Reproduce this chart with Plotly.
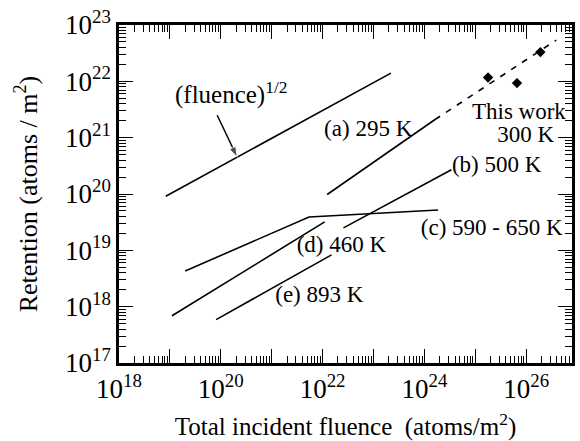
import plotly.graph_objects as go

# ---- data ----
fluence_half_x = [8.3e18, 2.2e23]
fluence_half_y = [9.1e19, 1.4e22]

a295_x = [1.23e22, 1.62e24]
a295_y = [9.8e19, 2.1e21]
a295_ext_x = [1.62e24, 3.9e26]
a295_ext_y = [2.1e21, 5.4e22]

b500_x = [2.57e22, 3.4e24]
b500_y = [2.5e19, 2.7e20]

c590_x = [2.0e19, 5.4e21, 1.86e24]
c590_y = [4.3e18, 3.9e19, 5.2e19]

d460_x = [1.1e19, 1.1e22]
d460_y = [6.9e17, 3.2e19]

e893_x = [8.1e19, 1.5e22]
e893_y = [5.9e17, 8.3e18]

this_work_x = [1.78e25, 6.6e25, 1.9e26]
this_work_y = [1.17e22, 9.3e21, 3.3e22]

# pointer of the (fluence)^1/2 label: tail -> head
pointer_x = [8.5e19, 2.1e20]
pointer_y = [2.5e21, 4.5e20]

x_decades = list(range(18, 27))
y_decades = list(range(17, 24))

FONT = "Liberation Serif"
X_RANGE = [18, 26.9]
Y_RANGE = [17, 23]

fig = go.Figure()
line = dict(color="black", width=1.6)
for xs, ys in [(fluence_half_x, fluence_half_y), (a295_x, a295_y), (b500_x, b500_y),
               (c590_x, c590_y), (d460_x, d460_y), (e893_x, e893_y)]:
    fig.add_trace(go.Scatter(x=xs, y=ys, mode="lines", line=line, showlegend=False))
fig.add_trace(go.Scatter(x=a295_ext_x, y=a295_ext_y, mode="lines",
                         line=dict(color="black", width=1.6, dash="6px,7px"), showlegend=False))
fig.add_trace(go.Scatter(x=this_work_x, y=this_work_y, mode="markers",
                         marker=dict(symbol="diamond", size=8, color="black"), showlegend=False))
fig.add_trace(go.Scatter(x=pointer_x, y=pointer_y, mode="lines+markers",
                         line=dict(color="black", width=1.5),
                         marker=dict(symbol=["circle", "arrow"], size=[0, 11], color="black",
                                     angleref="previous", standoff=0),
                         showlegend=False))

# text labels as text traces
ann_font = dict(family=FONT, size=23, color="black")
left_labels = [
    ("(a) 295 K", 22.03, 21.14),
    ("(b) 500 K", 24.54, 20.49),
    ("(c) 590 - 650 K", 23.93, 19.37),
    ("(d) 460 K", 21.49, 19.07),
    ("(e) 893 K", 21.07, 18.18),
]
fig.add_trace(go.Scatter(x=[10 ** p[1] for p in left_labels], y=[10 ** p[2] for p in left_labels],
                         text=[p[0] for p in left_labels], mode="text",
                         textposition="middle right", textfont=ann_font,
                         hoverinfo="skip", showlegend=False))
right_labels = [("This work", 26.78, 21.43), ("300 K", 26.55, 21.02)]
fig.add_trace(go.Scatter(x=[10 ** p[1] for p in right_labels], y=[10 ** p[2] for p in right_labels],
                         text=[p[0] for p in right_labels], mode="text",
                         textposition="middle left", textfont=ann_font,
                         hoverinfo="skip", showlegend=False))
fig.add_trace(go.Scatter(x=[10 ** 19.10], y=[10 ** 21.72], text=["(fluence)<sup>1/2</sup>"],
                         mode="text", textposition="middle right",
                         textfont=dict(family=FONT, size=25, color="black"),
                         hoverinfo="skip", showlegend=False))

x_tickvals = [10.0 ** d for d in x_decades]
x_ticktext = [f"10<sup>{d}</sup>" if d % 2 == 0 else "" for d in x_decades]
y_tickvals = [10.0 ** d for d in y_decades]
y_ticktext = [f"10<sup>{d}</sup>" for d in y_decades]
x_minor = [m * 10.0 ** d for d in x_decades for m in range(2, 10)]
y_minor = [m * 10.0 ** d for d in y_decades[:-1] for m in range(2, 10)]

tfont = dict(family=FONT, size=27, color="black")

def tick_axis(rng, vals, side, overlay, anchor, length):
    return dict(type="log", range=rng, overlaying=overlay, anchor=anchor, side=side,
                ticks="inside", ticklen=length, tickwidth=1, tickcolor="black",
                tickmode="array", tickvals=vals, showticklabels=False, showgrid=False,
                showline=False, zeroline=False)

fig.update_layout(
    template="none",
    xaxis=dict(type="log", range=X_RANGE, ticks="inside", ticklen=14, tickwidth=1,
               tickcolor="black", showgrid=False, zeroline=False, showline=True,
               linecolor="black", linewidth=2.5, mirror=True, tickmode="array",
               tickvals=x_tickvals, ticktext=x_ticktext, tickfont=tfont, automargin=False,
               title=dict(text="Total incident fluence  (atoms/m<sup>2</sup>)",
                          font=dict(family=FONT, size=25, color="black"))),
    yaxis=dict(type="log", range=Y_RANGE, ticks="inside", ticklen=14, tickwidth=1,
               tickcolor="black", showgrid=False, zeroline=False, showline=True,
               linecolor="black", linewidth=2.5, mirror=True, tickmode="array",
               tickvals=y_tickvals, ticktext=y_ticktext, tickfont=tfont, automargin=True,
               title=dict(text="Retention (atoms / m<sup>2</sup>)", standoff=20,
                          font=dict(family=FONT, size=26, color="black"))),
    xaxis2=tick_axis(X_RANGE, x_minor, "bottom", "x", "y", 7),
    xaxis3=tick_axis(X_RANGE, x_tickvals, "top", "x", "y", 14),
    xaxis4=tick_axis(X_RANGE, x_minor, "top", "x", "y", 7),
    yaxis2=tick_axis(Y_RANGE, y_minor, "left", "y", "x", 7),
    yaxis3=tick_axis(Y_RANGE, y_tickvals, "right", "y", "x", 14),
    yaxis4=tick_axis(Y_RANGE, y_minor, "right", "y", "x", 7),
)
for xa, ya in [("x2", "y2"), ("x3", "y3"), ("x4", "y4")]:
    fig.add_trace(go.Scatter(x=[1e20], y=[1e20], xaxis=xa, yaxis=ya, mode="markers",
                             marker=dict(opacity=0), hoverinfo="skip", showlegend=False))

fig.update_layout(width=580, height=441, margin=dict(l=119, r=5, t=25, b=78),
                  plot_bgcolor="white", paper_bgcolor="white")
fig.write_html("out.html")
